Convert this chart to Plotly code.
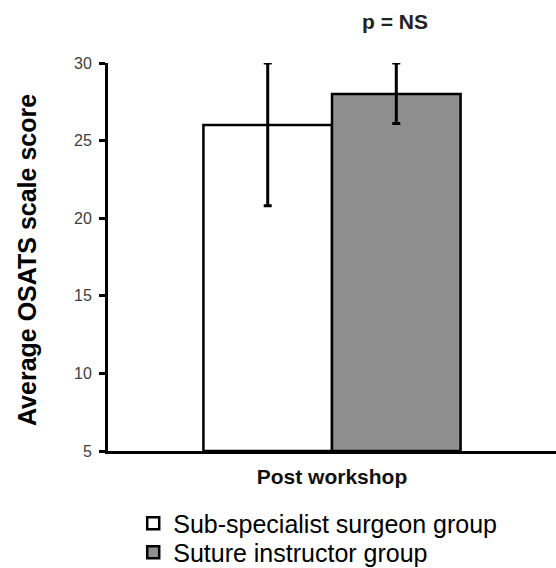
import plotly.graph_objects as go

categories = ["Post workshop"]
groups = ["Sub-specialist surgeon group", "Suture instructor group"]
means = [26.0, 28.0]
err_plus = [4.0, 2.0]
err_minus = [5.2, 1.9]
colors = ["#ffffff", "#8f8f8f"]
y_ticks = [5, 10, 15, 20, 25, 30]

FONT = "Arial, Liberation Sans, sans-serif"
legend_ids = ["legend", "legend2"]

fig = go.Figure()
for g, m, ep, em, c, lg in zip(groups, means, err_plus, err_minus, colors, legend_ids):
    fig.add_trace(go.Bar(
        x=categories, y=[m - 5], base=5, name=g, legend=lg,
        marker=dict(color=c, line=dict(color="black", width=2.5)),
        error_y=dict(type="data", symmetric=False, array=[ep], arrayminus=[em],
                     color="black", thickness=3, width=4),
        hoverinfo="skip",
    ))

legend_style = dict(orientation="v", xref="container", yref="container",
                    x=0.2396, xanchor="left", yanchor="top",
                    font=dict(size=25, family=FONT, color="black"),
                    itemwidth=30, bgcolor="rgba(0,0,0,0)")

fig.update_layout(
    width=556, height=568,
    margin=dict(l=108, r=0, t=63, b=117, autoexpand=False),
    paper_bgcolor="white", plot_bgcolor="white",
    barmode="group", bargap=0.426, bargroupgap=0,
    font=dict(family=FONT, color="black"),
    showlegend=True,
    legend=dict(legend_style, y=0.119),
    legend2=dict(legend_style, y=0.068),
    annotations=[
        dict(text="<b>p = NS</b>", x=0.64, y=1.106, xref="paper", yref="paper",
             xanchor="center", yanchor="middle",
             showarrow=False, font=dict(size=21, family=FONT, color="#222")),
        dict(text="<b>Average OSATS scale score</b>", x=-0.181, y=0.492,
             xref="paper", yref="paper", xanchor="center", yanchor="middle",
             textangle=-90, showarrow=False,
             font=dict(size=25, family=FONT, color="black")),
    ],
)
fig.update_xaxes(
    showline=True, linecolor="black", linewidth=3, ticks="outside", ticklen=5,
    tickcolor="rgba(0,0,0,0)", showgrid=False,
    tickfont=dict(size=21, family=FONT, color="#111", weight="bold"),
)
fig.update_yaxes(
    range=[5, 30], tickvals=y_ticks, showline=True, linecolor="black", linewidth=3,
    ticks="outside", ticklen=6, tickwidth=3, tickcolor="black", showgrid=False,
    zeroline=False, ticklabelstandoff=4,
    tickfont=dict(size=16, family=FONT, color="#404040"),
)

fig.write_html("out.html", config={"displayModeBar": False},
               post_script="document.body.style.margin='0';")
